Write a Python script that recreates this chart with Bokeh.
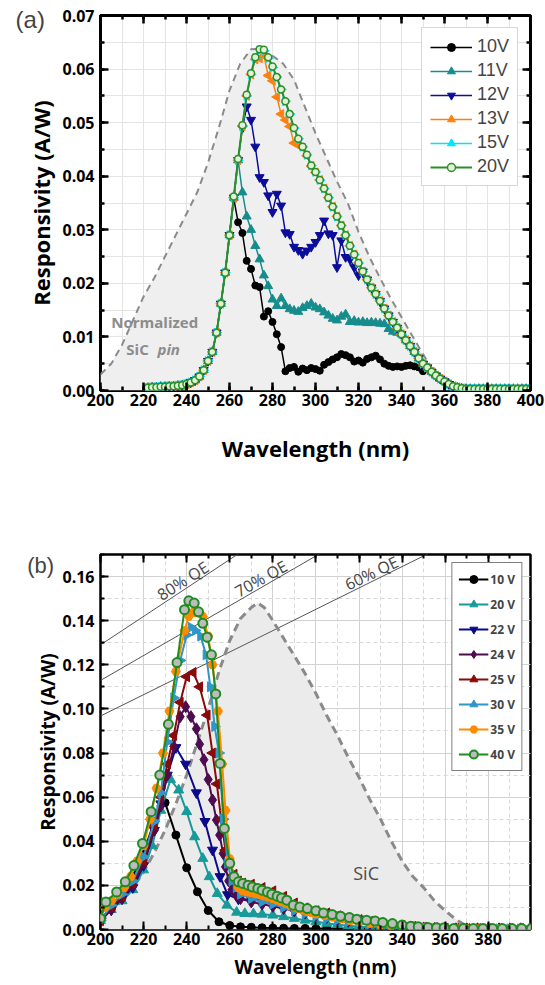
import math
from bokeh.plotting import figure
from bokeh.models import (Range1d, LinearAxis, SingleIntervalTicker, PrintfTickFormatter,
                          Legend, LegendItem, Label)
from bokeh.layouts import column
from bokeh.embed import file_html
from bokeh.resources import INLINE

# ================= panel (a) data =================
wl_a = list(range(222, 401, 2))

r20_a = [.0005, .0006, .0006, .0007, .0007, .0008, .0008, .0009, .0010, .0012,
         .0015, .0019, .0026, .0038, .0055, .0072, .0108, .0162, .0220, .0290,
         .0362, .0432, .0495, .0552, .0592, .0622, .0637, .0636, .0622, .0605,
         .0585, .0562, .0540, .0516, .0490, .0470, .0455, .0440, .0420, .0408,
         .0393, .0377, .0360, .0343, .0325, .0308, .0290, .0270, .0254, .0238,
         .0222, .0207, .0192, .0180, .0167, .0153, .0140, .0128, .0117, .0105,
         .0094, .0083, .0072, .0060, .0050, .0043, .0035, .0028, .0022, .0017,
         .0012, .0008, .0006, .0004, .0003, .0003, .0003, .0003, .0003, .0003,
         .0003, .0003, .0003, .0003, .0003, .0003, .0003, .0003, .0003, .0003]

r15_a = [.0005, .0006, .0006, .0007, .0007, .0008, .0008, .0009, .0010, .0012,
         .0015, .0019, .0026, .0038, .0055, .0072, .0108, .0162, .0220, .0290,
         .0360, .0430, .0493, .0550, .0590, .0620, .0635, .0634, .0620, .0603,
         .0585, .0562, .0540, .0516, .0490, .0470, .0455, .0440, .0420, .0408,
         .0393, .0377, .0360, .0343, .0325, .0308, .0290, .0270, .0254, .0238,
         .0222, .0207, .0192, .0180, .0167, .0153, .0140, .0128, .0117, .0105,
         .0094, .0083, .0072, .0060, .0050, .0043, .0035, .0028, .0022, .0017,
         .0012, .0008, .0006, .0004, .0003, .0003, .0003, .0003, .0003, .0003,
         .0003, .0003, .0003, .0003, .0003, .0003, .0003, .0003, .0003, .0003]

r13_a = [.0005, .0006, .0006, .0007, .0007, .0008, .0008, .0009, .0010, .0012,
         .0015, .0019, .0026, .0038, .0055, .0072, .0108, .0162, .0220, .0290,
         .0360, .0430, .0493, .0550, .0590, .0618, .0620, .0625, .0588, .0578,
         .0548, .0516, .0505, .0493, .0462, .0458, .0453, .0438, .0419, .0407,
         .0393, .0377, .0360, .0343, .0325, .0308, .0290, .0270, .0254, .0238,
         .0222, .0207, .0192, .0180, .0167, .0153, .0140, .0128, .0117, .0105,
         .0094, .0083, .0072, .0060, .0050, .0043, .0035, .0028, .0022, .0017,
         .0012, .0008, .0006, .0004, .0003, .0003, .0003, .0003, .0003, .0003,
         .0003, .0003, .0003, .0003, .0003, .0003, .0003, .0003, .0003, .0003]

r12_a = [.0005, .0006, .0006, .0007, .0007, .0008, .0008, .0009, .0010, .0012,
         .0015, .0019, .0026, .0038, .0055, .0072, .0108, .0162, .0220, .0290,
         .0360, .0430, .0490, .0530, .0505, .0455, .0398, .0389, .0364, .0333,
         .0367, .0345, .0295, .0292, .0268, .0262, .0255, .0261, .0268, .0277,
         .0290, .0317, .0293, .0290, .0230, .0280, .0249, .0245, .0230, .0215,
         .0222, .0207, .0192, .0180, .0167, .0153, .0140, .0128, .0117, .0105,
         .0094, .0083, .0072, .0060, .0050, .0043, .0035, .0028, .0022, .0017,
         .0012, .0008, .0006, .0004, .0003, .0003, .0003, .0003, .0003, .0003,
         .0003, .0003, .0003, .0003, .0003, .0003, .0003, .0003, .0003, .0003]

r11_a = [.0005, .0006, .0006, .0007, .0007, .0008, .0008, .0009, .0010, .0012,
         .0015, .0019, .0026, .0038, .0055, .0072, .0108, .0162, .0220, .0290,
         .0360, .0430, .0370, .0325, .0300, .0270, .0245, .0215, .0195, .0170,
         .0158, .0172, .0158, .0152, .0149, .0147, .0154, .0158, .0162, .0155,
         .0152, .0146, .0140, .0134, .0131, .0138, .0142, .0128, .0130, .0127,
         .0128, .0126, .0127, .0126, .0125, .0124, .0115, .0110, .0108, .0105,
         .0094, .0083, .0072, .0060, .0050, .0043, .0035, .0028, .0022, .0017,
         .0012, .0008, .0006, .0004, .0003, .0003, .0003, .0003, .0003, .0003,
         .0003, .0003, .0003, .0003, .0003, .0003, .0003, .0003, .0003, .0003]

r10_a = [.0005, .0006, .0006, .0007, .0007, .0008, .0008, .0009, .0010, .0012,
         .0015, .0019, .0026, .0038, .0055, .0072, .0108, .0162, .0220, .0290,
         .0358, .0314, .0294, .0242, .0227, .0196, .0193, .0138, .0148, .0128,
         .0105, .0081, .0036, .0042, .0044, .0035, .0041, .0038, .0042, .0040,
         .0037, .0048, .0053, .0058, .0062, .0068, .0066, .0062, .0054, .0056,
         .0052, .0059, .0062, .0065, .0058, .0050, .0046, .0044, .0045, .0044,
         .0046, .0047, .0045, .0043, .0036, .0043, .0035, .0028, .0022, .0017,
         .0012, .0008, .0006, .0004, .0003, .0003, .0003, .0003, .0003, .0003,
         .0003, .0003, .0003, .0003, .0003, .0003, .0003, .0003, .0003, .0003]

sic_a_wl = [200, 205, 210, 215, 220, 225, 230, 235, 240, 245, 250, 255, 260, 265, 270,
            275, 280, 285, 290, 295, 300, 305, 310, 315, 320, 325, 330, 335, 340, 345,
            350, 355, 360, 365]
sic_a_r = [.0030, .0050, .0085, .0130, .0175, .0210, .0250, .0290, .0330, .0370, .0425,
           .0490, .0560, .0610, .0637, .0638, .0625, .0610, .0580, .0530, .0480, .0435,
           .0390, .0350, .0296, .0250, .0210, .0172, .0137, .0102, .0068, .0035, .0010, .0000]

labels_a = ["10V", "11V", "12V", "13V", "15V", "20V"]

# ================= panel (b) data =================
sic_b = [(200, .003), (205, .008), (210, .013), (215, .019), (220, .026), (225, .035),
         (230, .045), (235, .057), (240, .070), (245, .085), (250, .100), (255, .117),
         (260, .131), (265, .141), (270, .146), (273, .148), (276, .146), (280, .140),
         (285, .132), (290, .124), (295, .116), (300, .107), (305, .097), (310, .088),
         (315, .078), (320, .069), (325, .059), (330, .050), (335, .040), (340, .031),
         (345, .024), (350, .019), (355, .013), (360, .0085), (365, .0045), (370, .0015),
         (374, .0)]

b10 = [(200, .004), (205, .011), (210, .016), (215, .024), (220, .035), (225, .049),
       (230, .0575), (235, .0428), (240, .028), (245, .0171), (250, .0086), (255, .0035),
       (260, .0018), (265, .0012), (270, .0010), (275, .0008), (280, .0007), (285, .0006),
       (290, .0005), (295, .0005), (300, .0004), (305, .0004), (310, .0004), (315, .0003),
       (320, .0003), (325, .0003), (330, .0003), (335, .0003), (340, .0003), (345, .0003),
       (350, .0003), (355, .0003), (360, .0003), (365, .0003), (370, .0003), (375, .0003),
       (380, .0003), (385, .0003), (390, .0003), (395, .0003), (400, .0003)]

b20 = [(200, .004), (205, .009), (210, .013), (215, .018), (220, .027), (224, .038),
       (228, .054), (232.5, .068), (236.3, .0632), (240, .0534), (243.7, .042),
       (247.5, .0322), (250.5, .0239), (254.2, .0163), (258.7, .011), (263.2, .0078),
       (267, .0072), (271, .0071), (275, .0069), (280, .0065), (285, .0058), (290, .0050),
       (295, .0042), (300, .0035), (305, .0028), (310, .0022), (315, .0017), (320, .0013),
       (325, .0010), (330, .0008), (335, .0006), (340, .0005), (345, .0004), (350, .0003),
       (355, .0003), (360, .0003), (365, .0003), (370, .0003), (375, .0003), (380, .0003),
       (385, .0003), (390, .0003), (395, .0003), (400, .0003)]

b22 = [(200, .004), (205, .009), (210, .014), (215, .019), (220, .029), (225, .045),
       (228, .057), (231, .070), (235, .0825), (239.5, .075), (244.5, .062), (248.5, .049),
       (252, .036), (255.5, .024), (259, .0158), (264, .0138), (270, .0135), (275, .0130),
       (280, .0125), (285, .0115), (290, .0103), (295, .0094), (300, .0083), (305, .0074),
       (310, .0066), (315, .0056), (320, .0047), (325, .0038), (330, .0030), (335, .0023),
       (340, .0017), (345, .0012), (350, .0008), (355, .0005), (360, .0004), (365, .0003),
       (370, .0003), (375, .0003), (380, .0003), (385, .0003), (390, .0003), (395, .0003),
       (400, .0003)]

b24 = [(200, .004), (205, .009), (210, .014), (215, .020), (220, .030), (225, .045),
       (228, .056), (231, .070), (234, .083), (237, .0965), (239.5, .101), (242, .0965),
       (244.5, .091), (246, .084), (248, .077), (250, .068), (252, .0587), (253.8, .0496),
       (255.3, .0428), (256.9, .0345), (258, .0284), (259.5, .022), (261, .018), (263, .0155),
       (265, .0140), (270, .0125), (275, .0115), (280, .0105), (285, .0095), (290, .0085),
       (295, .0075), (300, .0065), (305, .0055), (310, .0045), (315, .0037), (320, .0030),
       (325, .0025), (330, .0020), (335, .0016), (340, .0012), (345, .0009), (350, .0007),
       (355, .0005), (360, .0004), (365, .0003), (370, .0003), (375, .0003), (380, .0003),
       (385, .0003), (390, .0003), (395, .0003), (400, .0003)]

b25 = [(200, .004), (205, .010), (210, .015), (215, .021), (220, .031), (225, .047),
       (228, .060), (231, .075), (234, .088), (237, .103), (240, .1146), (243, .1165),
       (246, .110), (249.5, .0972), (252, .080), (254, .066), (256, .050), (258, .036),
       (260, .030), (262, .025), (264, .022), (266, .021), (270, .0205), (275, .0190),
       (280, .0175), (285, .0150), (290, .0120), (295, .0098), (300, .0085), (305, .0075),
       (310, .0062), (315, .0052), (320, .0045), (325, .0037), (330, .0030), (335, .0024),
       (340, .0018), (345, .0014), (350, .0010), (355, .0008), (360, .0006), (365, .0005),
       (370, .0004), (375, .0004), (380, .0004), (385, .0004), (390, .0004), (395, .0004),
       (400, .0004)]

b30 = [(200, .004), (205, .011), (210, .016), (215, .022), (220, .033), (225, .049),
       (228, .062), (231, .085), (234, .105), (237, .122), (240, .1335), (242, .137),
       (244, .1355), (246.5, .133), (249, .1245), (251, .110), (253, .092), (255, .080),
       (257, .050), (259, .030), (261, .022), (263, .019), (265, .016), (270, .014),
       (275, .0125), (280, .0115), (285, .0100), (290, .0085), (295, .0072), (300, .0060),
       (305, .0050), (310, .0043), (315, .0035), (320, .0030), (325, .0025), (330, .0020),
       (335, .0016), (340, .0012), (345, .0009), (350, .0007), (355, .0005), (360, .0004),
       (365, .0003), (370, .0003), (375, .0003), (380, .0003), (385, .0003), (390, .0003),
       (395, .0003), (400, .0003)]

b35 = [(200, .005), (202, .010), (205, .013), (208, .016), (211, .019), (214, .024),
       (217, .031), (220, .038), (223, .050), (226, .064), (229, .080), (232, .099),
       (235, .117), (239, .1355), (241, .142), (243, .1437), (245, .1435), (247.5, .1418),
       (250, .133), (252, .120), (254.5, .099), (256.5, .075), (258, .054), (260, .032),
       (262, .024), (264, .019), (266, .0175), (268, .0170), (270, .0167), (272, .0162),
       (274, .0157), (276, .0152), (278, .0146), (280, .0140), (282, .0133), (284, .0126),
       (286, .0118), (288, .0110), (290, .0102), (292, .0095), (294, .0088), (296, .0082),
       (298, .0077), (300, .0071), (304, .0063), (308, .0056), (312, .0048), (316, .0041),
       (320, .0035), (325, .0028), (330, .0022), (335, .0017), (340, .0013), (345, .0010),
       (350, .0008), (355, .0006), (360, .0005), (365, .0004), (370, .0003), (375, .0003),
       (380, .0003), (385, .0003), (390, .0003), (395, .0003), (400, .0003)]

b40 = [(200, .005), (202.5, .0125), (207.5, .017), (211.5, .0216), (215.5, .029),
       (219.5, .039), (223.5, .0534), (227.5, .070), (231.5, .093), (235.5, .121),
       (239, .145), (241, .149), (243.5, .148), (245.5, .144), (247.5, .1388),
       (249.5, .1325), (251.5, .1245), (253.5, .1068), (255.5, .0753), (257.5, .0458),
       (260, .030), (262, .0239), (264, .0216), (266, .0209), (268.5, .0201), (270.5, .0193),
       (273, .0186), (275, .0178), (277.5, .0170), (279.5, .0160), (282, .0151), (284, .0143),
       (286.5, .0133), (289.5, .0110), (292.5, .0102), (296, .0095), (300, .0085),
       (303.5, .0075), (307.5, .0068), (311.5, .0060), (315.5, .0054), (319, .0047),
       (323.5, .0042), (327.5, .0038), (331, .0032), (335.5, .0027), (340, .0020),
       (344, .0015), (347.5, .0012), (352, .0009), (356, .0008), (359.5, .0008),
       (364, .0005), (368.5, .0005), (373, .0004), (377.5, .0004), (382, .0004),
       (386.5, .0004), (391, .0004), (395.5, .0004), (400, .0004)]

labels_b = ["10 V", "20 V", "22 V", "24 V", "25 V", "30 V", "35 V", "40 V"]

qe_levels = [0.8, 0.7, 0.6]
qe_names = ["80% QE", "70% QE", "60% QE"]
qe_label_wl = [241, 277, 328]
qe_line_wl = [200, 400]

# ================= helpers =================
TICK_FONT = "Open Sans"


def style_axes(p, xint, yint, yfmt, xlab, ylab, lab_size, xl_standoff, yl_standoff,
               tick_w, right_axis=True):
    xt = SingleIntervalTicker(interval=xint, num_minor_ticks=2)
    yt = SingleIntervalTicker(interval=yint, num_minor_ticks=2)
    p.xaxis.ticker = xt
    p.yaxis.ticker = yt
    p.xgrid.ticker = xt
    p.ygrid.ticker = yt
    p.xaxis.formatter = PrintfTickFormatter(format="%d")
    p.yaxis.formatter = PrintfTickFormatter(format=yfmt)
    for ax in (p.xaxis[0], p.yaxis[0]):
        ax.axis_line_color = None
        ax.major_tick_in = 8
        ax.major_tick_out = 0
        ax.minor_tick_in = 4
        ax.minor_tick_out = 0
        ax.major_tick_line_width = tick_w
        ax.minor_tick_line_width = tick_w
        ax.major_label_text_font = TICK_FONT
        ax.major_label_text_font_style = "bold"
        ax.major_label_text_font_size = "16px"
        ax.major_label_text_color = "black"
        ax.axis_label_text_font = TICK_FONT
        ax.axis_label_text_font_style = "bold"
        ax.axis_label_text_font_size = lab_size
        ax.axis_label_text_color = "black"
    p.xaxis.axis_label = xlab
    p.yaxis.axis_label = ylab
    p.xaxis.major_label_standoff = 3
    p.yaxis.major_label_standoff = 6
    p.xaxis.axis_label_standoff = xl_standoff
    p.yaxis.axis_label_standoff = yl_standoff
    sides = [("above", xt)]
    if right_axis:
        sides.append(("right", yt))
    for side, t in sides:
        ax = LinearAxis(ticker=t, axis_line_color=None, major_tick_in=8, major_tick_out=0,
                        minor_tick_in=4, minor_tick_out=0, major_tick_line_width=tick_w,
                        minor_tick_line_width=tick_w, major_label_text_font_size="1px",
                        major_label_text_alpha=0, major_label_standoff=0)
        p.add_layout(ax, side)


def add_series(p, xs, ys, color, marker, size, fill=None, angle=0.0, lw=1.5, mlw=1.0):
    ln = p.line(xs, ys, line_color=color, line_width=lw)
    sc = p.scatter(xs, ys, marker=marker, size=size, angle=angle, line_color=color,
                   fill_color=fill if fill is not None else color, line_width=mlw)
    return [ln, sc]


# ================= panel (a) =================
pa = figure(width=545, height=505, x_range=Range1d(200, 400), y_range=Range1d(0, 0.07),
            output_backend="svg", toolbar_location=None,
            min_border_left=97, min_border_right=15, min_border_top=15, min_border_bottom=115)
pa.background_fill_color = "white"
pa.border_fill_color = "white"
pa.outline_line_color = "black"
pa.outline_line_width = 3
style_axes(pa, 20, 0.01, "%.2f", "Wavelength (nm)", "Responsivity (A/W)", "22px", 24, 3, 2.5)
pa.xgrid.grid_line_color = "#e4e4e4"
pa.ygrid.grid_line_color = "#e4e4e4"
pa.xgrid.minor_grid_line_color = "#e4e4e4"
pa.ygrid.minor_grid_line_color = "#e4e4e4"

pa.varea(x=sic_a_wl, y1=0, y2=sic_a_r, fill_color="#efefef")
pa.line(sic_a_wl, sic_a_r, line_color="#8a8a8a", line_width=2, line_dash="7 5")

ra = []
ra.append(add_series(pa, wl_a, r10_a, "#000000", "circle", 7))
ra.append(add_series(pa, wl_a, r11_a, "#168c8c", "triangle", 9))
ra.append(add_series(pa, wl_a, r12_a, "#0c0c9c", "inverted_triangle", 9))
ra.append(add_series(pa, wl_a, r13_a, "#ff8010", "triangle", 9, angle=math.pi / 2))
ra.append(add_series(pa, wl_a, r15_a, "#00e5ff", "triangle", 9, angle=-math.pi / 2))
ra.append(add_series(pa, wl_a, r20_a, "#2a8f2a", "circle", 7, fill="#e4f0d4", lw=2, mlw=1.5))

leg_a = Legend(items=[LegendItem(label=lab, renderers=r) for lab, r in zip(labels_a, ra)],
               location="top_right", margin=12, padding=8, spacing=3,
               glyph_width=42, glyph_height=20, label_height=20, label_standoff=5,
               label_text_font="Liberation Sans", label_text_font_size="18px",
               border_line_color="#b0b0b0", border_line_width=1.5,
               background_fill_color="white", background_fill_alpha=1.0)
pa.add_layout(leg_a)

# panel tag placed in a side panel so that it is not clipped to the frame
pa.add_layout(Label(x=160.5, y=0.0692, text="(a)", text_font="Liberation Sans",
                    text_font_size="24px", text_baseline="middle", text_align="left"),
              "below")
pa.add_layout(Label(x=205, y=0.0127, text="Normalized", text_font="Open Sans",
                    text_font_style="bold", text_font_size="15px", text_color="#8c8c8c",
                    text_baseline="middle", text_align="left"))
pa.add_layout(Label(x=212, y=0.0078, text="SiC", text_font="Open Sans",
                    text_font_style="bold", text_font_size="15px", text_color="#8c8c8c",
                    text_baseline="middle", text_align="left"))
pa.add_layout(Label(x=226.5, y=0.0078, text="pin", text_font="Open Sans",
                    text_font_style="bold italic", text_font_size="15px", text_color="#8c8c8c",
                    text_baseline="middle", text_align="left"))

# ================= panel (b) =================
XB0, XB1, YB1 = 200, 399.6, 0.17
pb = figure(width=545, height=480, x_range=Range1d(XB0, XB1), y_range=Range1d(0, YB1),
            output_backend="svg", toolbar_location=None,
            min_border_left=100, min_border_right=0, min_border_top=49, min_border_bottom=56)
pb.background_fill_color = "white"
pb.border_fill_color = "white"
pb.outline_line_color = "black"
pb.outline_line_width = 2.5
style_axes(pb, 20, 0.02, "%.2f", "Wavelength (nm)", "Responsivity (A/W)", "19px", 6, -2, 2,
           right_axis=False)
pb.xgrid.grid_line_color = "#d2d2d2"
pb.ygrid.grid_line_color = "#d2d2d2"
pb.xgrid.minor_grid_line_color = "#d8d8d8"
pb.ygrid.minor_grid_line_color = "#d8d8d8"
pb.xgrid.minor_grid_line_dash = "4 3"
pb.ygrid.minor_grid_line_dash = "4 3"

sx = [p[0] for p in sic_b]
sy = [p[1] for p in sic_b]
pb.varea(x=sx, y1=0, y2=sy, fill_color="#ebebeb")

frame_w, frame_h = 445.0, 375.0
for q, name, lw_ in zip(qe_levels, qe_names, qe_label_wl):
    pb.line(qe_line_wl, [q * w / 1240 for w in qe_line_wl], line_color="#555555", line_width=1)
    ang = math.atan((q / 1240) * (frame_h / YB1) / (frame_w / (XB1 - XB0)))
    pb.add_layout(Label(x=lw_, y=q * lw_ / 1240 - 0.0016, text=name, angle=ang,
                        text_font="Open Sans", text_font_size="16px", text_color="#454545",
                        text_align="center", text_baseline="bottom"))

pb.line(sx, sy, line_color="#8a8a8a", line_width=3, line_dash="8 5")


def split(pts):
    return [p[0] for p in pts], [p[1] for p in pts]


rb = []
specs = [
    (b10, "#000000", "circle", 8, None, 0.0, 1.0),
    (b20, "#179a9a", "triangle", 10, None, 0.0, 1.0),
    (b22, "#0a0a8a", "inverted_triangle", 10, None, 0.0, 1.0),
    (b24, "#4d0c50", "diamond", 12, None, 0.0, 1.0),
    (b25, "#8a0a0a", "triangle", 10, None, math.pi / 2, 1.0),
    (b30, "#2f96c8", "triangle", 10, None, -math.pi / 2, 1.0),
    (b35, "#ff8a00", "hex", 9, None, 0.0, 1.0),
    (b40, "#1f8c1f", "circle", 9, "#bcbcbc", 0.0, 2.0),
]
for pts, col, mk, sz, fill, ang, mlw in specs:
    xs, ys = split(pts)
    rb.append(add_series(pb, xs, ys, col, mk, sz, fill=fill, angle=ang, lw=2, mlw=mlw))

leg_b = Legend(items=[LegendItem(label=lab, renderers=r) for lab, r in zip(labels_b, rb)],
               location="top_right", margin=8, padding=6, spacing=5,
               glyph_width=30, glyph_height=20, label_height=20, label_standoff=2,
               label_text_font="Open Sans", label_text_font_style="bold",
               label_text_font_size="12px",
               border_line_color="black", border_line_width=1.5,
               background_fill_color="white", background_fill_alpha=1.0)
pb.add_layout(leg_b)

pb.add_layout(Label(x=166, y=0.1648, text="(b)", text_font="Liberation Sans",
                    text_font_size="22px", text_baseline="middle", text_align="left"),
              "above")
pb.add_layout(Label(x=323.3, y=0.0258, text="SiC", text_font="Open Sans",
                    text_font_size="18px", text_color="#4a4a4a",
                    text_baseline="middle", text_align="center"))

layout = column(pa, pb, spacing=0)
open("out.html", "w").write(file_html(layout, INLINE))
